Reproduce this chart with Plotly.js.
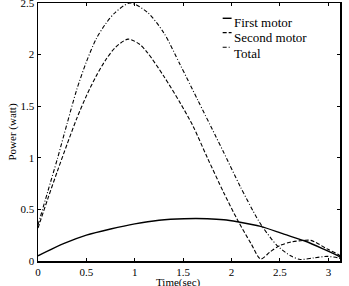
<!DOCTYPE html>
<html>
<head>
<meta charset="utf-8">
<script src="https://cdn.plot.ly/plotly-3.0.1.min.js"></script>
<style>html,body{margin:0;padding:0;background:#fff;}#chart{width:349px;height:286px;}</style>
</head>
<body>
<div id="chart"></div>
<script>
// Data
var firstX  = [0, 0.27, 0.5, 0.75, 1.0, 1.25, 1.51, 1.75, 1.92, 2.06, 2.3, 2.54, 2.75, 2.95, 3.11, 3.13];
var firstY  = [0.05, 0.17, 0.25, 0.31, 0.36, 0.395, 0.41, 0.41, 0.40, 0.38, 0.335, 0.26, 0.196, 0.116, 0.045, 0.03];

var secondX = [0, 0.1, 0.2, 0.3, 0.4, 0.5, 0.6, 0.7, 0.8, 0.93, 1.05, 1.13, 1.3, 1.47, 1.6, 1.75, 1.92, 2.06, 2.2, 2.3, 2.4, 2.5, 2.62, 2.75, 2.82, 2.99, 3.11, 3.13];
var secondY = [0.32, 0.60, 0.87, 1.13, 1.38, 1.60, 1.79, 1.95, 2.07, 2.15, 2.10, 2.02, 1.79, 1.53, 1.31, 1.00, 0.66, 0.40, 0.17, 0.02, 0.09, 0.15, 0.185, 0.20, 0.20, 0.116, 0.058, 0.04];

var totalX  = [0, 0.1, 0.2, 0.3, 0.4, 0.5, 0.6, 0.7, 0.8, 0.95, 1.13, 1.3, 1.47, 1.65, 1.83, 1.92, 2.09, 2.26, 2.32, 2.47, 2.61, 2.71, 2.85, 2.99, 3.11, 3.13];
var totalY  = [0.35, 0.67, 0.99, 1.33, 1.66, 1.93, 2.15, 2.30, 2.41, 2.50, 2.41, 2.21, 1.90, 1.56, 1.22, 1.05, 0.72, 0.42, 0.33, 0.15, 0.05, 0.015, 0.03, 0.045, 0.028, 0.02];

var seriesNames = ["First motor", "Second motor", "Total"];
var xTicks = [0, 0.5, 1, 1.5, 2, 2.5, 3];
var xTickText = ["0", "0.5", "1", "1.5", "2", "2.5", "3"];
var yTicks = [0, 0.5, 1, 1.5, 2, 2.5];
var yTickText = ["0", "0.5", "1", "1.5", "2", "2.5"];

var FONT = "Liberation Serif, Times New Roman, serif";
var dashes = ["solid", "4px,2px", "4px,2px,1px,2px"];
var widths = [1.4, 1.1, 1.1];

var traces = [
  {x: firstX, y: firstY},
  {x: secondX, y: secondY},
  {x: totalX, y: totalY}
].map(function (t, i) {
  return {
    x: t.x, y: t.y, type: "scatter", mode: "lines", name: seriesNames[i],
    line: {color: "#000", width: widths[i], dash: dashes[i], shape: "spline", smoothing: 0.8},
    showlegend: false, hoverinfo: "skip"
  };
});

// manual legend (paper coordinates)
var legX0 = 0.6115, legX1 = 0.6410, legTextX = 0.641;
var legLineY = [0.9408, 0.8851, 0.8286];
var legTextY = [0.923, 0.865, 0.803];
var shapes = [], annotations = [];
for (var i = 0; i < 3; i++) {
  shapes.push({type: "line", xref: "paper", yref: "paper", x0: legX0, x1: legX1,
    y0: legLineY[i], y1: legLineY[i], line: {color: "#000", width: i === 0 ? 1.4 : 1.1, dash: dashes[i]}});
  annotations.push({xref: "paper", yref: "paper", x: legTextX, y: legTextY[i],
    xanchor: "left", yanchor: "middle", showarrow: false, text: seriesNames[i],
    font: {family: FONT, size: 13, color: "#000"}});
}
// x-axis title placed as annotation (below tick labels)
annotations.push({xref: "paper", yref: "paper", x: 0.465, y: -0.084, xanchor: "center", yanchor: "middle",
  showarrow: false, text: "Time(sec)", font: {family: FONT, size: 11, color: "#000"}});

var layout = {
  width: 349, height: 286,
  margin: {l: 37.5, r: 9, t: 3, b: 24.5, pad: 0},
  paper_bgcolor: "#fff", plot_bgcolor: "#fff",
  font: {family: FONT, size: 11, color: "#000"},
  xaxis: {
    range: [0, 3.12], tickvals: xTicks, ticktext: xTickText,
    ticks: "inside", ticklen: 3, tickwidth: 1, tickcolor: "#000",
    showline: true, linecolor: "#000", linewidth: 1.5, mirror: "ticks",
    showgrid: false, zeroline: false, ticklabeloverflow: "allow",
    tickfont: {family: FONT, size: 11, color: "#000"}
  },
  yaxis: {
    range: [0, 2.5], tickvals: yTicks, ticktext: yTickText,
    ticks: "inside", ticklen: 3, tickwidth: 1, tickcolor: "#000",
    showline: true, linecolor: "#000", linewidth: 1.5, mirror: "ticks",
    showgrid: false, zeroline: false, ticklabeloverflow: "allow",
    tickfont: {family: FONT, size: 11, color: "#000"},
    title: {text: "Power (watt)", font: {family: FONT, size: 11, color: "#000"}, standoff: 1}
  },
  shapes: shapes,
  annotations: annotations,
  showlegend: false
};

Plotly.newPlot("chart", traces, layout, {displayModeBar: false, staticPlot: true});
</script>
</body>
</html>
